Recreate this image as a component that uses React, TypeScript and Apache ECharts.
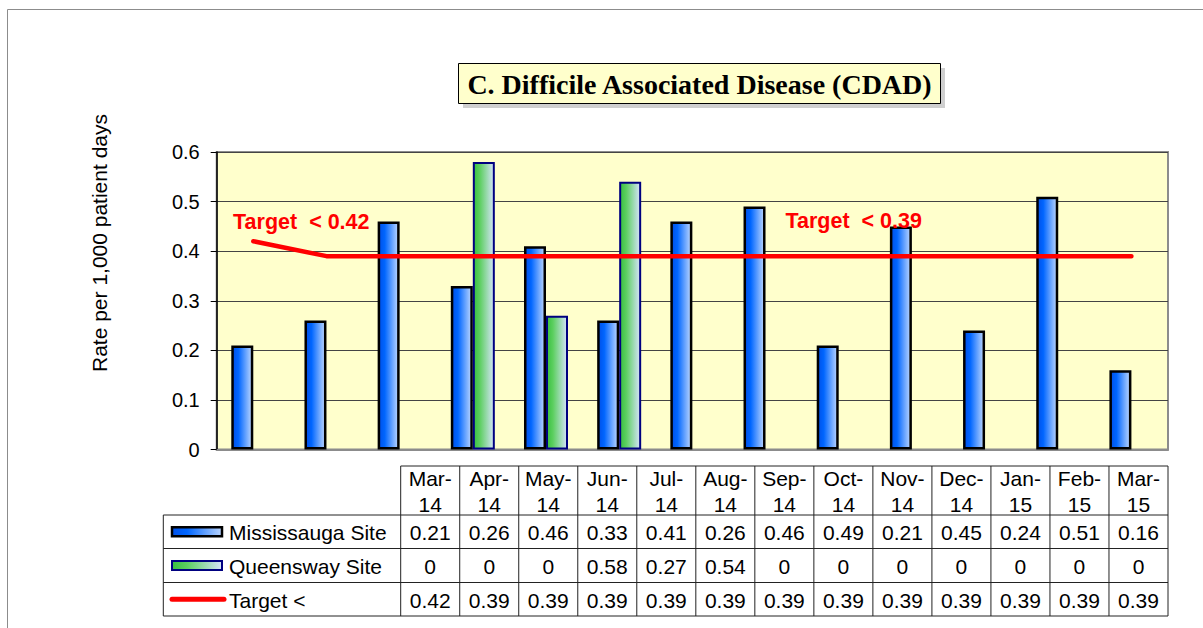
import React, { useEffect, useRef } from 'react';
import * as echarts from 'echarts';

const categories = ['Mar-14', 'Apr-14', 'May-14', 'Jun-14', 'Jul-14', 'Aug-14', 'Sep-14', 'Oct-14', 'Nov-14', 'Dec-14', 'Jan-15', 'Feb-15', 'Mar-15'];
const mississauga = [0.21, 0.26, 0.46, 0.33, 0.41, 0.26, 0.46, 0.49, 0.21, 0.45, 0.24, 0.51, 0.16];
const queensway = [0, 0, 0, 0.58, 0.27, 0.54, 0, 0, 0, 0, 0, 0, 0];
const target = [0.42, 0.39, 0.39, 0.39, 0.39, 0.39, 0.39, 0.39, 0.39, 0.39, 0.39, 0.39, 0.39];
const seriesNames = ['Mississauga Site', 'Queensway Site', 'Target <'];
const targetNotes = [
  { cat: 'Mar-14', value: 0.42, text: 'Target  < 0.42' },
  { cat: 'Nov-14', value: 0.39, text: 'Target  < 0.39' },
];
const yMin = 0;
const yMax = 0.6;
const yInterval = 0.1;
const titleText = 'C. Difficile Associated Disease (CDAD)';
const yAxisName = 'Rate per 1,000 patient days';

const SANS = '"Liberation Sans", Arial, sans-serif';
const SERIF = '"Liberation Serif", "Times New Roman", serif';

const blueGrad = () => ({
  type: 'linear', x: 0, y: 0, x2: 1, y2: 0,
  colorStops: [
    { offset: 0, color: '#0050E8' },
    { offset: 0.3, color: '#0066FF' },
    { offset: 1, color: '#BCD6FF' },
  ],
});
const greenGrad = () => ({
  type: 'linear', x: 0, y: 0, x2: 1, y2: 0,
  colorStops: [
    { offset: 0, color: '#38C040' },
    { offset: 0.3, color: '#5CCF60' },
    { offset: 1, color: '#D6E4FA' },
  ],
});

export default function App() {
  const ref = useRef<HTMLDivElement>(null);
  useEffect(() => {
    document.body.style.margin = '0';
    const chart = echarts.init(ref.current!, null, { renderer: 'svg' });

    const plotL = 216.7, plotT = 152, plotR = 1168, plotB = 449.5;

    // table layout
    const tableL = 163.3, colStart = 400.7, tableR = 1168;
    const colW = (tableR - colStart) / categories.length;
    const headTop = 466;
    const rowLines = [515, 548.5, 582.5, 616];
    const lineColor = '#222';
    const tableFont = `21px ${SANS}`;

    const graphics: any[] = [];
    // outer frame
    graphics.push({ type: 'rect', shape: { x: 7.5, y: 9.5, width: 1400, height: 800 }, style: { fill: 'none', stroke: '#8c8c8c', lineWidth: 1 }, silent: true, z: 0 });
    // title
    graphics.push({ type: 'rect', shape: { x: 463, y: 68, width: 482, height: 40 }, style: { fill: '#CFCFCF' }, z: 10 });
    graphics.push({ type: 'rect', shape: { x: 458.5, y: 63.5, width: 482, height: 40 }, style: { fill: '#FFFFCC', stroke: '#000', lineWidth: 1 }, z: 11 });
    graphics.push({ type: 'text', x: 699.5, y: 84, style: { text: titleText, font: `bold 28px ${SERIF}`, fill: '#000', align: 'center', verticalAlign: 'middle' }, z: 12 });
    // y axis name
    graphics.push({ type: 'text', x: 99.5, y: 243, rotation: Math.PI / 2, style: { text: yAxisName, font: `21px ${SANS}`, fill: '#000', align: 'center', verticalAlign: 'middle' }, z: 12 });

    // table lines
    const hl = (x1: number, x2: number, y: number) => graphics.push({ type: 'line', shape: { x1, y1: y, x2, y2: y }, style: { stroke: lineColor, lineWidth: 1 }, z: 12 });
    const vl = (x: number, y1: number, y2: number) => graphics.push({ type: 'line', shape: { x1: x, y1, x2: x, y2 }, style: { stroke: lineColor, lineWidth: 1 }, z: 12 });
    hl(colStart, tableR, headTop);
    rowLines.forEach((y) => hl(tableL, tableR, y));
    vl(tableL, rowLines[0], rowLines[3]);
    for (let i = 0; i <= categories.length; i++) vl(colStart + i * colW, headTop, rowLines[3]);

    // header texts
    categories.forEach((c, i) => {
      const parts = c.split('-');
      graphics.push({ type: 'text', x: colStart + (i + 0.5) * colW, y: (headTop + rowLines[0]) / 2 + 1, style: { text: parts[0] + '-\n' + parts[1], font: tableFont, lineHeight: 26, fill: '#000', align: 'center', verticalAlign: 'middle' }, z: 13 });
    });
    const rows = [mississauga, queensway, target];
    rows.forEach((arr, r) => {
      const cy = (rowLines[r] + rowLines[r + 1]) / 2;
      arr.forEach((v, i) => {
        graphics.push({ type: 'text', x: colStart + (i + 0.5) * colW, y: cy + 1, style: { text: String(v), font: tableFont, fill: '#000', align: 'center', verticalAlign: 'middle' }, z: 13 });
      });
      graphics.push({ type: 'text', x: 229, y: cy + 1, style: { text: seriesNames[r], font: tableFont, fill: '#000', align: 'left', verticalAlign: 'middle' }, z: 13 });
    });
    // legend keys
    const c1 = (rowLines[0] + rowLines[1]) / 2;
    const c2 = (rowLines[1] + rowLines[2]) / 2;
    const c3 = (rowLines[2] + rowLines[3]) / 2;
    graphics.push({ type: 'rect', shape: { x: 172, y: c1 - 4.5, width: 50, height: 9 }, style: { fill: blueGrad() as any, stroke: '#000', lineWidth: 2.5 }, z: 13 });
    graphics.push({ type: 'rect', shape: { x: 172, y: c2 - 4.5, width: 50, height: 9 }, style: { fill: greenGrad() as any, stroke: '#000080', lineWidth: 2 }, z: 13 });
    graphics.push({ type: 'line', shape: { x1: 172, y1: c3, x2: 224, y2: c3 }, style: { stroke: '#FF0000', lineWidth: 5, lineCap: 'round' }, z: 13 });

    const option: any = {
      animation: false,
      backgroundColor: '#fff',
      grid: {
        left: plotL, top: plotT, width: plotR - plotL, height: plotB - plotT,
        show: true, backgroundColor: '#FFFFCC', borderColor: '#8c8c8c', borderWidth: 2,
      },
      xAxis: {
        type: 'category', data: categories, boundaryGap: true,
        axisLine: { show: true, lineStyle: { color: '#8c8c8c', width: 2 } },
        axisTick: { show: false }, axisLabel: { show: false }, splitLine: { show: false },
      },
      yAxis: {
        type: 'value', min: yMin, max: yMax, interval: yInterval,
        axisLine: { show: true, lineStyle: { color: '#000', width: 1.5 } },
        axisTick: { show: true, length: 6, lineStyle: { color: '#000', width: 1 } },
        axisLabel: {
          color: '#000', fontSize: 20, fontFamily: SANS, margin: 17,
          formatter: (v: number) => (v === 0 ? '0' : v.toFixed(1)),
        },
        splitLine: { show: true, lineStyle: { color: '#444', width: 1 } },
      },
      series: [
        {
          name: seriesNames[0], type: 'bar', data: mississauga, barWidth: 22, barGap: '0%',
          itemStyle: { color: blueGrad(), borderColor: '#000', borderWidth: 2.5 },
        },
        {
          name: seriesNames[1], type: 'bar', barWidth: 22, barGap: '0%',
          data: queensway.map((v) => (v === 0 ? { value: v, itemStyle: { borderWidth: 0 } } : v)),
          itemStyle: { color: greenGrad(), borderColor: '#000080', borderWidth: 2 },
        },
        {
          name: seriesNames[2], type: 'line', data: target, symbol: 'none', z: 5,
          lineStyle: { color: '#FF0000', width: 4.5, cap: 'round', join: 'round' },
          markPoint: {
            symbol: 'circle', symbolSize: 1, itemStyle: { color: 'rgba(0,0,0,0)' },
            z: 10,
            data: [
              { coord: [targetNotes[0].cat, targetNotes[0].value], label: { show: true, formatter: targetNotes[0].text, offset: [48, -19] } },
              { coord: [targetNotes[1].cat, targetNotes[1].value], label: { show: true, formatter: targetNotes[1].text, offset: [15, -35] } },
            ],
            label: { show: true, color: '#FF0000', fontWeight: 'bold', fontSize: 21.5, fontFamily: SANS, position: 'inside' },
          },
        },
      ],
      graphic: graphics,
    };
    chart.setOption(option);
    return () => chart.dispose();
  }, []);
  return <div ref={ref} style={{ width: 1203, height: 628 }} />;
}
